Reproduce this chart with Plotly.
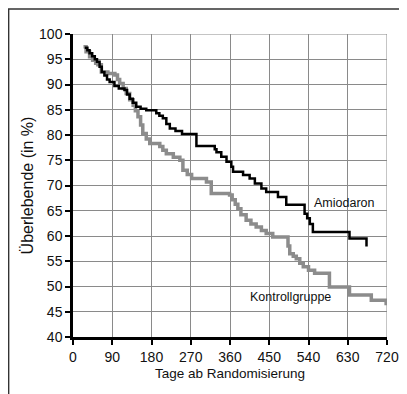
import plotly.graph_objects as go

# Kaplan-Meier style step data (day, survival %)
amio_days = [27, 33, 38, 44, 50, 55, 61, 66, 72, 78, 84, 95, 105, 118, 124, 130, 137, 145, 155, 168,
             191, 198, 206, 214, 222, 235, 250, 283, 325, 329, 340, 352, 363, 367, 390, 405, 417,
             432, 443, 470, 489, 531, 537, 543, 550, 631, 634, 673, 673]
amio_vals = [97.3, 96.8, 96.2, 95.6, 95.0, 94.5, 93.5, 92.5, 91.8, 91.0, 90.5, 89.7, 89.2, 88.9, 88.0,
             87.2, 86.4, 85.6, 85.2, 84.9, 84.3, 83.8, 83.3, 82.2, 81.3, 80.8, 80.2, 77.8, 77.2, 76.6,
             75.7, 74.7, 73.7, 72.7, 72.1, 71.4, 70.4, 69.4, 68.7, 67.7, 66.2, 64.4, 63.5, 62.4, 60.8,
             60.8, 59.5, 59.5, 57.9]

ctrl_days = [24, 30, 38, 45, 52, 57, 65, 80, 96, 102, 107, 115, 122, 130, 138, 143, 149, 155, 160, 168,
             176, 199, 206, 214, 230, 245, 252, 262, 272, 306, 317, 359, 365, 372, 378, 385, 397, 408,
             420, 432, 443, 458, 489, 493, 497, 505, 512, 520, 528, 540, 554, 588, 634, 684, 718]
ctrl_vals = [97.5, 96.5, 95.5, 94.8, 94.2, 93.9, 92.5, 92.2, 91.9, 91.0, 90.2, 89.2, 88.2, 87.0, 85.9,
             84.8, 83.6, 82.0, 80.3, 79.2, 78.3, 77.7, 77.0, 76.3, 75.6, 75.0, 73.0, 72.2, 71.4, 70.7,
             68.4, 68.1, 67.2, 66.3, 65.4, 64.2, 63.1, 62.4, 61.8, 61.1, 60.5, 59.8, 59.8, 58.0, 56.5,
             56.0, 55.5, 54.6, 53.9, 53.2, 52.6, 49.9, 48.3, 47.3, 46.3]

x_ticks = [0, 90, 180, 270, 360, 450, 540, 630, 720]
y_ticks = [40, 45, 50, 55, 60, 65, 70, 75, 80, 85, 90, 95, 100]

FONT = "Liberation Sans, Arial, sans-serif"

fig = go.Figure()
fig.add_trace(go.Scatter(x=ctrl_days, y=ctrl_vals, mode="lines", line=dict(shape="hv", color="#8c8c8c", width=3.5),
                         name="Kontrollgruppe", showlegend=False))
fig.add_trace(go.Scatter(x=amio_days, y=amio_vals, mode="lines", line=dict(shape="hv", color="#000000", width=2.5),
                         name="Amiodaron", showlegend=False))

fig.add_annotation(x=549, y=66.5, text="Amiodaron", showarrow=False, xanchor="left", yanchor="middle",
                   font=dict(family=FONT, size=12.5, color="#111"))
fig.add_annotation(x=401, y=47.9, text="Kontrollgruppe", showarrow=False, xanchor="left", yanchor="middle",
                   font=dict(family=FONT, size=12.5, color="#111"))

# outer frame
fig.add_shape(type="rect", xref="paper", yref="paper", x0=-0.205, x1=1.051, y0=-0.25, y1=1.0825,
              line=dict(color="#333", width=1.5), fillcolor="rgba(0,0,0,0)", layer="below")

fig.update_layout(
    width=399, height=386,
    margin=dict(l=65, r=20, t=26, b=57),
    paper_bgcolor="white", plot_bgcolor="white",
    font=dict(family=FONT, size=13, color="#111"),
    xaxis=dict(range=[0, 720], tickvals=x_ticks, ticktext=[str(v) for v in x_ticks],
               showgrid=True, gridcolor="#8a8a8a", gridwidth=1, zeroline=False,
               showline=True, linecolor="black", linewidth=2.5, ticks="outside", ticklen=5,
               tickwidth=2, tickcolor="black",
               title=dict(text="Tage ab Randomisierung", standoff=6, font=dict(size=13.5)),
               automargin=False, tickfont=dict(size=14)),
    yaxis=dict(range=[40, 100], tickvals=y_ticks, ticktext=[str(v) for v in y_ticks],
               showgrid=True, gridcolor="#8a8a8a", gridwidth=1, zeroline=False,
               showline=True, linecolor="black", linewidth=2.5, ticks="outside", ticklen=5,
               tickwidth=2, tickcolor="black",
               title=dict(text="Überlebende (in %)", standoff=2, font=dict(size=16)),
               automargin=False, tickfont=dict(size=14)),
)

# right-edge grid line at 720 and top at 100
fig.add_shape(type="line", x0=720, x1=720, y0=40, y1=100, line=dict(color="#8a8a8a", width=1), layer="below")
fig.add_shape(type="line", x0=0, x1=720, y0=100, y1=100, line=dict(color="#8a8a8a", width=1), layer="below")

fig.write_html("out.html")
